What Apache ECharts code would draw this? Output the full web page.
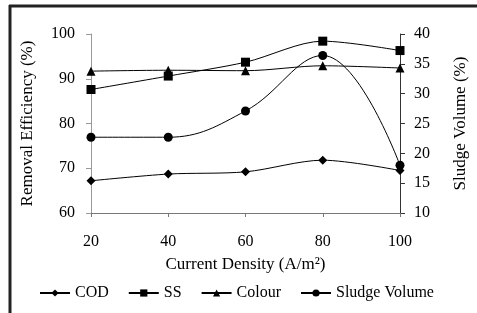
<!DOCTYPE html>
<html>
<head>
<meta charset="utf-8">
<script src="https://cdn.jsdelivr.net/npm/echarts@6/dist/echarts.min.js"></script>
<style>
  html, body { margin: 0; padding: 0; background: #fff; }
  #myChart { width: 477px; height: 313px; }
</style>
</head>
<body>
<div id="myChart"></div>
<script>
// current density (A/m2)
const density = [20, 40, 60, 80, 100];
// removal efficiency (%)
const cod = [67.2, 68.7, 69.2, 71.8, 69.5];
const ss = [87.6, 90.6, 93.7, 98.4, 96.3];
const colour = [91.7, 91.9, 91.8, 92.9, 92.4];
// sludge volume (%), right axis
const sludge = [22.7, 22.7, 27.1, 36.4, 18.0];

const font = "Liberation Serif";

function pairs(vals) {
  return density.map((d, i) => [d, vals[i]]);
}

let myChart = echarts.init(document.getElementById("myChart"));

const lineStyle = { color: '#000', width: 1 };
const itemStyle = { color: '#000' };

myChart.setOption({
  backgroundColor: '#fff',
  animation: false,
  textStyle: { fontFamily: font, color: '#000' },
  grid: { left: 91, right: 77, top: 34, bottom: 100 },
  graphic: [
    // frame left and top
    { type: 'line', shape: { x1: 10, y1: 5, x2: 10, y2: 313 }, style: { stroke: '#222', lineWidth: 3 } },
    { type: 'line', shape: { x1: 9, y1: 6, x2: 477, y2: 6 }, style: { stroke: '#222', lineWidth: 3 } }
  ],
  legend: {
    left: 34,
    top: 280,
    itemWidth: 30,
    itemHeight: 9,
    itemGap: 19,
    textStyle: { fontFamily: font, fontSize: 16, color: '#000' },
    data: ['COD', 'SS', 'Colour', 'Sludge Volume']
  },
  xAxis: {
    type: 'value',
    min: 20,
    max: 100,
    interval: 20,
    name: 'Current Density (A/m²)',
    nameLocation: 'middle',
    nameGap: 43,
    nameTextStyle: { fontFamily: font, fontSize: 17, color: '#000' },
    axisLine: { lineStyle: { color: '#777' } },
    axisTick: { show: true, length: 4, lineStyle: { color: '#777' } },
    axisLabel: { fontFamily: font, fontSize: 16, color: '#000', margin: 21 },
    splitLine: { show: false }
  },
  yAxis: [
    {
      type: 'value',
      min: 60,
      max: 100,
      interval: 10,
      name: 'Removal Efficiency (%)',
      nameLocation: 'middle',
      nameRotate: 90,
      nameGap: 55,
      nameTextStyle: { fontFamily: font, fontSize: 17, color: '#000' },
      axisLine: { show: true, lineStyle: { color: '#999' } },
      axisTick: { show: true, length: 5, lineStyle: { color: '#999' } },
      axisLabel: { fontFamily: font, fontSize: 16, color: '#000', margin: 16 },
      splitLine: { show: false }
    },
    {
      type: 'value',
      min: 10,
      max: 40,
      interval: 5,
      position: 'right',
      name: 'Sludge Volume (%)',
      nameLocation: 'middle',
      nameRotate: 90,
      nameGap: 52,
      nameTextStyle: { fontFamily: font, fontSize: 17, color: '#000' },
      axisLine: { show: true, lineStyle: { color: '#333' } },
      axisTick: { show: true, length: 5, lineStyle: { color: '#333' } },
      axisLabel: { fontFamily: font, fontSize: 16, color: '#000', margin: 14 },
      splitLine: { show: false }
    }
  ],
  series: [
    {
      name: 'COD', type: 'line', data: pairs(cod), smooth: 0.3,
      symbol: 'diamond', symbolSize: 9, lineStyle: lineStyle, itemStyle: itemStyle
    },
    {
      name: 'SS', type: 'line', data: pairs(ss), smooth: 0.3,
      symbol: 'rect', symbolSize: 9, lineStyle: lineStyle, itemStyle: itemStyle
    },
    {
      name: 'Colour', type: 'line', data: pairs(colour), smooth: 0.3,
      symbol: 'triangle', symbolSize: 9, lineStyle: lineStyle, itemStyle: itemStyle
    },
    {
      name: 'Sludge Volume', type: 'line', yAxisIndex: 1, data: pairs(sludge), smooth: 0.4,
      symbol: 'circle', symbolSize: 9, lineStyle: lineStyle, itemStyle: itemStyle
    }
  ]
});
</script>
</body>
</html>
